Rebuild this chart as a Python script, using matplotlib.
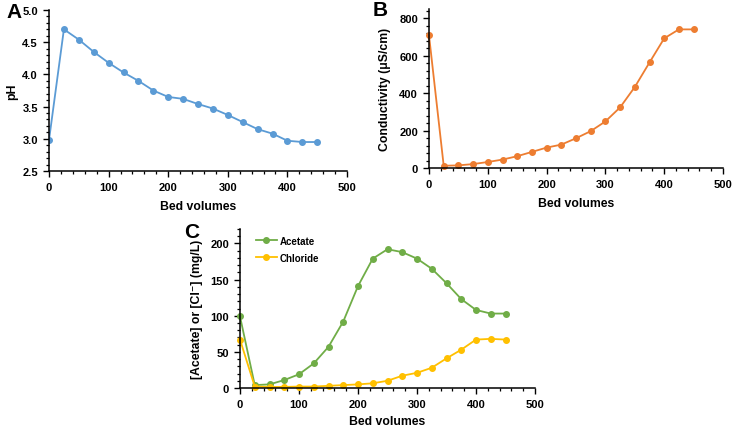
import matplotlib.pyplot as plt
from matplotlib.ticker import MultipleLocator

plt.rcParams['font.family'] = ['Liberation Sans', 'DejaVu Sans']
plt.rcParams['font.weight'] = 'bold'

# Bed volumes sampled
bed_volumes = [0, 25, 50, 75, 100, 125, 150, 175, 200, 225, 250, 275, 300,
               325, 350, 375, 400, 425, 450]

# Panel A: pH
ph = [2.98, 4.70, 4.54, 4.35, 4.18, 4.03, 3.90, 3.75, 3.65, 3.62, 3.54, 3.47,
      3.37, 3.26, 3.15, 3.08, 2.97, 2.95, 2.95]

# Panel B: conductivity (uS/cm)
conductivity = [709, 12, 14, 21, 32, 45, 63, 86, 109, 125, 159, 197, 249,
                324, 433, 564, 693, 741, 741]

# Panel C: acetate and chloride (mg/L)
acetate = [99, 4, 5, 11, 19, 34, 57, 92, 141, 179, 192, 188, 179, 165, 145,
           123, 108, 103, 103]
chloride = [67, 2, 1.5, 1.5, 2, 2, 3, 4, 5, 6.5, 10, 17, 21, 28, 41, 53, 67,
            68, 67]

blue = '#5b9bd5'
orange = '#ed7d31'
green = '#70ad47'
yellow = '#ffc000'

W, H = 734, 431
fig = plt.figure(figsize=(W / 100, H / 100), dpi=100)


def make_axes(left, right, top, bottom):
    return fig.add_axes([left / W, 1 - bottom / H, (right - left) / W, (bottom - top) / H])


def style(ax, ymin, ymax, ymajor, yminor, xpad=6):
    ax.set_xlim(0, 500)
    ax.set_ylim(ymin, ymax)
    ax.xaxis.set_major_locator(MultipleLocator(100))
    ax.xaxis.set_minor_locator(MultipleLocator(20))
    ax.yaxis.set_major_locator(MultipleLocator(ymajor))
    ax.yaxis.set_minor_locator(MultipleLocator(yminor))
    for s in ['top', 'right']:
        ax.spines[s].set_visible(False)
    for s in ['left', 'bottom']:
        ax.spines[s].set_linewidth(1.1)
        ax.spines[s].set_color('black')
    ax.tick_params(which='major', direction='out', length=4, width=1, labelsize=8, pad=4)
    ax.tick_params(which='minor', direction='out', length=2.5, width=0.9)
    for lab in ax.get_xticklabels() + ax.get_yticklabels():
        lab.set_fontweight('bold')
    ax.set_xlabel('Bed volumes', fontsize=8.8, fontweight='bold', labelpad=xpad)


mk = dict(marker='o', markersize=4, linewidth=1.3)

# A
axA = make_axes(49, 347, 11, 172)
axA.plot(bed_volumes, ph, color=blue, **mk)
style(axA, 2.5, 5.0, 0.5, 0.1)
axA.yaxis.set_major_formatter(plt.FormatStrFormatter('%.1f'))
axA.set_ylabel('pH', fontsize=8.8, fontweight='bold', labelpad=3)
fig.text(14 / W, 1 - 12 / H, 'A', fontsize=15, fontweight='bold', ha='center', va='center')

# B
axB = make_axes(429, 723, 10, 169)
axB.plot(bed_volumes, conductivity, color=orange, clip_on=False, **mk)
style(axB, 0, 850, 200, 40)
axB.set_ylabel('Conductivity (\u03bcS/cm)', fontsize=8.8, fontweight='bold', labelpad=6)
fig.text(380 / W, 1 - 11 / H, 'B', fontsize=15, fontweight='bold', ha='center', va='center')

# C
axC = make_axes(240, 535, 230, 389)
axC.plot(bed_volumes, acetate, color=green, clip_on=False, label='Acetate', **mk)
axC.plot(bed_volumes, chloride, color=yellow, clip_on=False, label='Chloride', **mk)
style(axC, 0, 220, 50, 10, xpad=4)
axC.set_ylabel('[Acetate] or [Cl\u207b] (mg/L)', fontsize=8.8, fontweight='bold', labelpad=5)
leg = axC.legend(loc='upper left', bbox_to_anchor=(0.03, 1.0), frameon=False,
                 fontsize=7, handlelength=2.2, handletextpad=0.3, labelspacing=0.7,
                 borderaxespad=0.3)
for t in leg.get_texts():
    t.set_fontweight('bold')
fig.text(192 / W, 1 - 233 / H, 'C', fontsize=15, fontweight='bold', ha='center', va='center')

fig.savefig('out.png', dpi=100)
